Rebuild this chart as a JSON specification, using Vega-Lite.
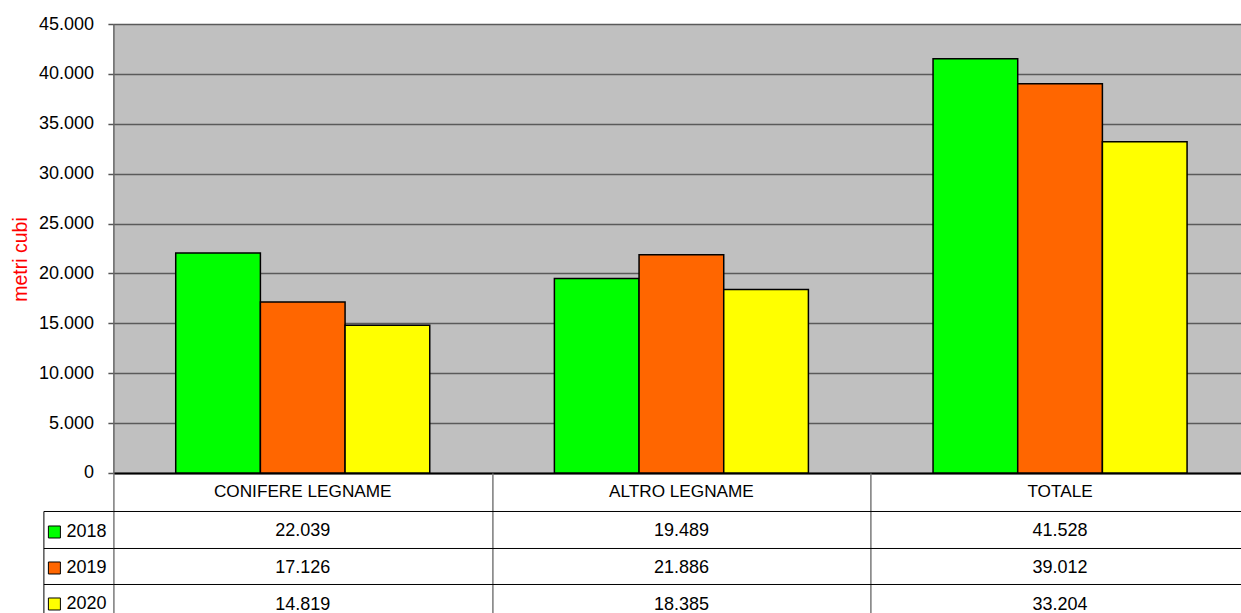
{
  "$schema": "https://vega.github.io/schema/vega-lite/v6.json",
  "padding": {"left": 10.4, "top": 15, "right": 0, "bottom": 0},
  "spacing": 0,
  "bounds": "flush",
  "config": {
    "locale": {"number": {"decimal": ",", "thousands": ".", "grouping": [3], "currency": ["€", ""]}},
    "font": "Liberation Sans",
    "view": {"stroke": null},
    "text": {"font": "Liberation Sans", "color": "#000000"}
  },
  "datasets": {
    "wood": [
      {"cat": "CONIFERE LEGNAME", "year": "2018", "value": 22039},
      {"cat": "CONIFERE LEGNAME", "year": "2019", "value": 17126},
      {"cat": "CONIFERE LEGNAME", "year": "2020", "value": 14819},
      {"cat": "ALTRO LEGNAME", "year": "2018", "value": 19489},
      {"cat": "ALTRO LEGNAME", "year": "2019", "value": 21886},
      {"cat": "ALTRO LEGNAME", "year": "2020", "value": 18385},
      {"cat": "TOTALE", "year": "2018", "value": 41528},
      {"cat": "TOTALE", "year": "2019", "value": 39012},
      {"cat": "TOTALE", "year": "2020", "value": 33204}
    ],
    "headers": [
      {"cat": "CONIFERE LEGNAME", "part": "h"},
      {"cat": "ALTRO LEGNAME", "part": "h"},
      {"cat": "TOTALE", "part": "h"}
    ]
  },
  "vconcat": [
    {
      "width": 1136,
      "height": 449,
      "view": {"fill": "#c0c0c0", "stroke": null},
      "data": {"name": "wood"},
      "mark": {"type": "bar", "stroke": "#000000", "strokeWidth": 1.5},
      "encoding": {
        "x": {
          "field": "cat", "type": "nominal",
          "scale": {"domain": ["CONIFERE LEGNAME", "ALTRO LEGNAME", "TOTALE"], "paddingInner": 0, "paddingOuter": 0},
          "axis": {"title": null, "labels": false, "ticks": false, "grid": false, "domain": true, "domainColor": "#000000", "domainWidth": 2}
        },
        "xOffset": {
          "field": "year", "type": "nominal",
          "scale": {"domain": ["2018", "2019", "2020"], "paddingInner": 0, "paddingOuter": 0.736}
        },
        "y": {
          "field": "value", "type": "quantitative",
          "scale": {"domain": [0, 45000], "nice": false},
          "axis": {
            "values": [0, 5000, 10000, 15000, 20000, 25000, 30000, 35000, 40000, 45000],
            "format": ",.0f",
            "labelFont": "Liberation Sans", "labelFontSize": 18, "labelColor": "#000000", "labelPadding": 14.5,
            "tickSize": 5.5, "tickColor": "#555555", "tickWidth": 1.5,
            "domain": true, "domainColor": "#666666", "domainWidth": 1.5,
            "grid": true, "gridColor": "#5a5a5a", "gridWidth": 1.5,
            "title": "metri cubi", "titleColor": "#ff0000", "titleFont": "Liberation Sans", "titleFontSize": 19.5,
            "titleFontWeight": "normal", "titleAngle": -90, "titleX": -87, "titleY": 235,
            "titleBaseline": "alphabetic", "titleAlign": "center"
          }
        },
        "color": {
          "field": "year", "type": "nominal",
          "scale": {"domain": ["2018", "2019", "2020"], "range": ["#00ff00", "#ff6600", "#ffff00"]},
          "legend": {
            "orient": "none", "legendX": -68, "legendY": 499, "direction": "vertical",
            "title": null, "padding": 0,
            "symbolType": "square", "symbolSize": 144, "symbolStrokeColor": "#000000", "symbolStrokeWidth": 1, "symbolOpacity": 1,
            "labelFont": "Liberation Sans", "labelFontSize": 18, "labelColor": "#000000", "labelOffset": 3,
            "rowPadding": 18
          }
        }
      }
    },
    {
      "width": 1136,
      "height": 140,
      "view": {"stroke": null},
      "layer": [
        {
          "data": {"name": "headers"},
          "mark": {"type": "text", "fontSize": 17.2, "baseline": "middle", "dy": 1},
          "encoding": {
            "x": {
              "field": "cat", "type": "nominal",
              "scale": {"domain": ["CONIFERE LEGNAME", "ALTRO LEGNAME", "TOTALE"], "paddingInner": 0, "paddingOuter": 0},
              "axis": {"orient": "top", "title": null, "labels": false, "ticks": false, "domain": false, "grid": true, "tickBand": "extent", "gridColor": "#7a7a7a", "gridWidth": 1.5}
            },
            "y": {"field": "part", "type": "nominal", "scale": {"domain": ["h", "2018", "2019", "2020"], "range": [0, 148], "paddingInner": 0, "paddingOuter": 0}, "axis": null},
            "text": {"field": "cat", "type": "nominal"}
          }
        },
        {
          "data": {"name": "wood"},
          "mark": {"type": "text", "fontSize": 18, "baseline": "middle", "dy": 2},
          "encoding": {
            "x": {
              "field": "cat", "type": "nominal",
              "scale": {"domain": ["CONIFERE LEGNAME", "ALTRO LEGNAME", "TOTALE"], "paddingInner": 0, "paddingOuter": 0},
              "axis": {"orient": "top", "title": null, "labels": false, "ticks": false, "domain": false, "grid": true, "tickBand": "extent", "gridColor": "#7a7a7a", "gridWidth": 1.5}
            },
            "y": {
              "field": "year", "type": "nominal",
              "scale": {"domain": ["2018", "2019", "2020"], "range": [38, 148], "paddingInner": 0, "paddingOuter": 0},
              "axis": {
                "orient": "left", "offset": 70, "title": null, "labels": false,
                "tickBand": "extent", "ticks": true, "tickSize": -70, "tickColor": "#000000", "tickWidth": 1,
                "domain": true, "domainColor": "#000000", "domainWidth": 1,
                "grid": true, "gridColor": "#000000", "gridWidth": 1
              }
            },
            "text": {"field": "value", "type": "quantitative", "format": ",.0f"}
          }
        }
      ],
      "resolve": {"scale": {"y": "independent"}, "axis": {"y": "independent"}}
    }
  ]
}
